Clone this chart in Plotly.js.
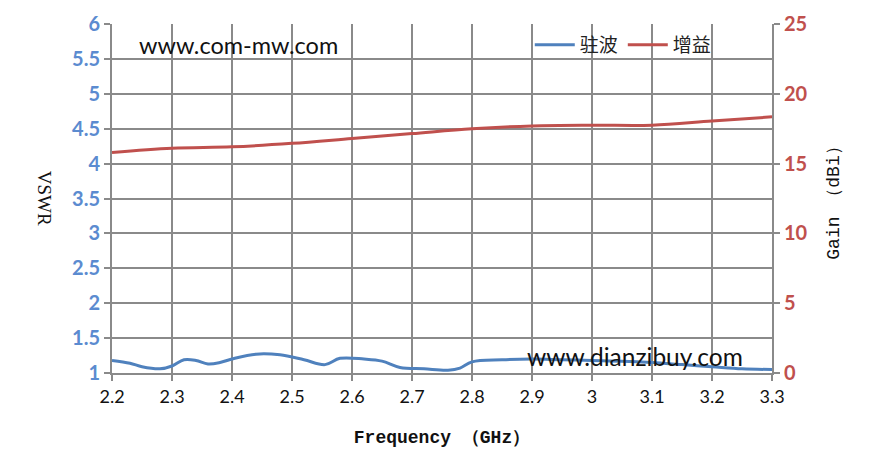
<!DOCTYPE html>
<html><head><meta charset="utf-8">
<script src="https://cdn.plot.ly/plotly-3.0.1.min.js"></script>
<style>html,body{margin:0;padding:0;background:#fff}#chart{width:879px;height:469px}</style>
</head><body><div id="chart"></div>
<script>
var vswrFreq = [2.20,2.23,2.25,2.28,2.30,2.32,2.34,2.36,2.38,2.40,2.44,2.48,2.52,2.555,2.58,2.62,2.65,2.68,2.72,2.76,2.78,2.80,2.85,2.90,2.95,3.00,3.05,3.10,3.15,3.20,3.25,3.30];
var vswrVals = [1.18,1.14,1.09,1.06,1.10,1.19,1.18,1.13,1.15,1.20,1.27,1.26,1.19,1.12,1.21,1.20,1.17,1.08,1.06,1.04,1.07,1.16,1.19,1.20,1.19,1.18,1.17,1.15,1.12,1.09,1.06,1.05];
var gainFreq = [2.2,2.3,2.4,2.5,2.6,2.7,2.8,2.9,3.0,3.1,3.2,3.3];
var gainVals = [15.8,16.1,16.2,16.45,16.8,17.15,17.5,17.7,17.75,17.75,18.05,18.35];
var seriesNames = ['驻波','增益'];
var xTitle = 'Frequency （GHz）';
var yTitle = 'VSWR';
var y2Title = 'Gain （dBi）';
var watermarks = ['www.com-mw.com','www.dianzibuy.com'];

var grid = '#8a8a8a';
var data = [
  {x: vswrFreq, y: vswrVals, name: seriesNames[0], type: 'scatter', mode: 'lines',
   line: {color: '#4f81bd', width: 3, shape: 'spline'}, yaxis: 'y'},
  {x: gainFreq, y: gainVals, name: seriesNames[1], type: 'scatter', mode: 'lines',
   line: {color: '#c0504d', width: 3, shape: 'spline'}, yaxis: 'y2'}
];
var layout = {
  width: 879, height: 469,
  margin: {l: 112, r: 107, t: 24, b: 96},
  paper_bgcolor: '#fff', plot_bgcolor: '#fff',
  showlegend: true,
  legend: {orientation: 'h', x: 0.633, y: 0.94, xanchor: 'left', yanchor: 'middle',
    bgcolor: 'rgba(0,0,0,0)', font: {family: 'Noto Sans CJK SC', size: 19, color: '#222'},
    itemwidth: 40},
  xaxis: {range: [2.2, 3.3], dtick: 0.1, tick0: 2.2, showgrid: true, gridcolor: grid, gridwidth: 2,
    showline: true, linecolor: grid, linewidth: 2, ticks: 'outside', ticklen: 6, tickcolor: grid, tickwidth: 2,
    zeroline: false, tickfont: {family: 'Lato', size: 18, color: '#111'},
    title: {text: xTitle, standoff: 25, font: {family: 'Liberation Mono', size: 18, color: '#111', weight: 'bold'}}},
  yaxis: {range: [1, 6], dtick: 0.5, showgrid: true, gridcolor: grid, gridwidth: 2,
    showline: true, linecolor: grid, linewidth: 2, ticks: 'outside', ticklen: 6, tickcolor: grid, tickwidth: 2,
    zeroline: false, tickfont: {family: 'Lato', size: 20, color: '#5b8bd0', weight: 'bold'}},
  yaxis2: {range: [0, 25], dtick: 5, overlaying: 'y', side: 'right', showgrid: false,
    showline: true, linecolor: grid, linewidth: 2, ticks: 'outside', ticklen: 6, tickcolor: grid, tickwidth: 2,
    zeroline: false, tickfont: {family: 'Lato', size: 20, color: '#c0504d', weight: 'bold'},
    title: {text: y2Title, standoff: 20, font: {family: 'Liberation Mono', size: 18, color: '#111'}}},
  annotations: [
    {text: yTitle, xref: 'paper', yref: 'paper', x: -0.102, y: 0.5, xanchor: 'center', yanchor: 'middle',
     textangle: 90, showarrow: false,
     font: {family: 'Liberation Serif', size: 19, color: '#111'}},
    {text: watermarks[0], xref: 'paper', yref: 'paper', x: 0.191, y: 0.94, xanchor: 'center', yanchor: 'middle',
     showarrow: false, font: {family: 'Lato', size: 23.5, color: '#111'}},
    {text: watermarks[1], xref: 'paper', yref: 'paper', x: 0.792, y: 0.046, xanchor: 'center', yanchor: 'middle',
     showarrow: false, font: {family: 'Lato', size: 24.5, color: '#111'}}
  ]
};
Plotly.newPlot('chart', data, layout, {displayModeBar: false, staticPlot: true});
</script></body></html>
